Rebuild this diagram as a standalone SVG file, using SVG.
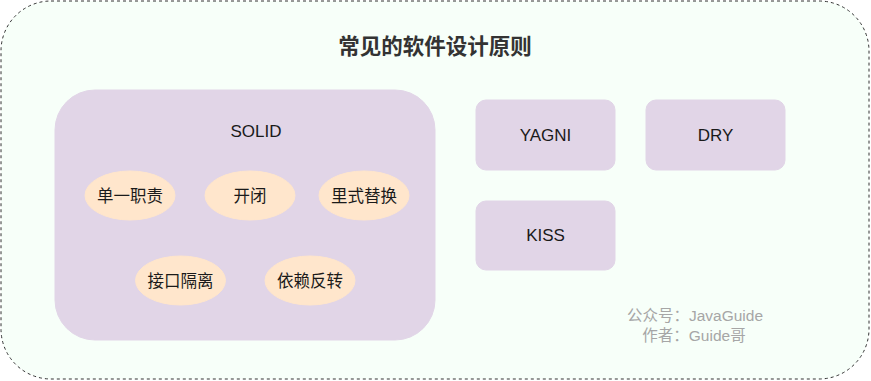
<svg xmlns="http://www.w3.org/2000/svg" width="871" height="381" viewBox="0 0 871 381">
<style>
text{font-family:"Liberation Sans","Noto Sans CJK SC",sans-serif;text-anchor:middle;dominant-baseline:central;fill:#1a1a1a}
.box{fill:#e1d5e7;stroke:#e1d5e7}
.ell{fill:#ffe6cc;stroke:#ffe6cc}
.lbl{font-size:17px}
.cjk{font-size:16.5px}
.foot{font-size:15.5px;fill:#a6a6a6}
</style>
<rect x="1" y="1" width="868" height="378" rx="50" ry="50" fill="#f7fff9" stroke="#333" stroke-width="1" stroke-dasharray="3,3"/>
<text x="435" y="47" font-size="21.5" font-weight="bold" style="fill:#333">常见的软件设计原则</text>
<g id="solid">
<rect class="box" x="55" y="90" width="380" height="250" rx="40" ry="40"/>
<text class="lbl" x="256" y="131">SOLID</text>
</g>
<g id="srp"><ellipse class="ell" cx="130" cy="195.5" rx="45" ry="24.5"/><text class="cjk" x="130" y="195.5">单一职责</text></g>
<g id="ocp"><ellipse class="ell" cx="250" cy="195.5" rx="45" ry="24.5"/><text class="cjk" x="250" y="195.5">开闭</text></g>
<g id="lsp"><ellipse class="ell" cx="364" cy="195.5" rx="45" ry="24.5"/><text class="cjk" x="364" y="195.5">里式替换</text></g>
<g id="isp"><ellipse class="ell" cx="180.5" cy="280.5" rx="45" ry="24.5"/><text class="cjk" x="180.5" y="280.5">接口隔离</text></g>
<g id="dip"><ellipse class="ell" cx="310" cy="280.5" rx="45" ry="24.5"/><text class="cjk" x="310" y="280.5">依赖反转</text></g>
<g id="yagni"><rect class="box" x="476" y="100" width="139" height="70" rx="10" ry="10"/><text class="lbl" x="545.5" y="135">YAGNI</text></g>
<g id="dry"><rect class="box" x="646" y="100" width="139" height="70" rx="10" ry="10"/><text class="lbl" x="715.5" y="135">DRY</text></g>
<g id="kiss"><rect class="box" x="476" y="201" width="139" height="69" rx="10" ry="10"/><text class="lbl" x="545.5" y="235.5">KISS</text></g>
<g id="connectors"></g>
<text class="foot" x="695" y="315">公众号：JavaGuide</text>
<text class="foot" x="694" y="335">作者：Guide哥</text>
</svg>
